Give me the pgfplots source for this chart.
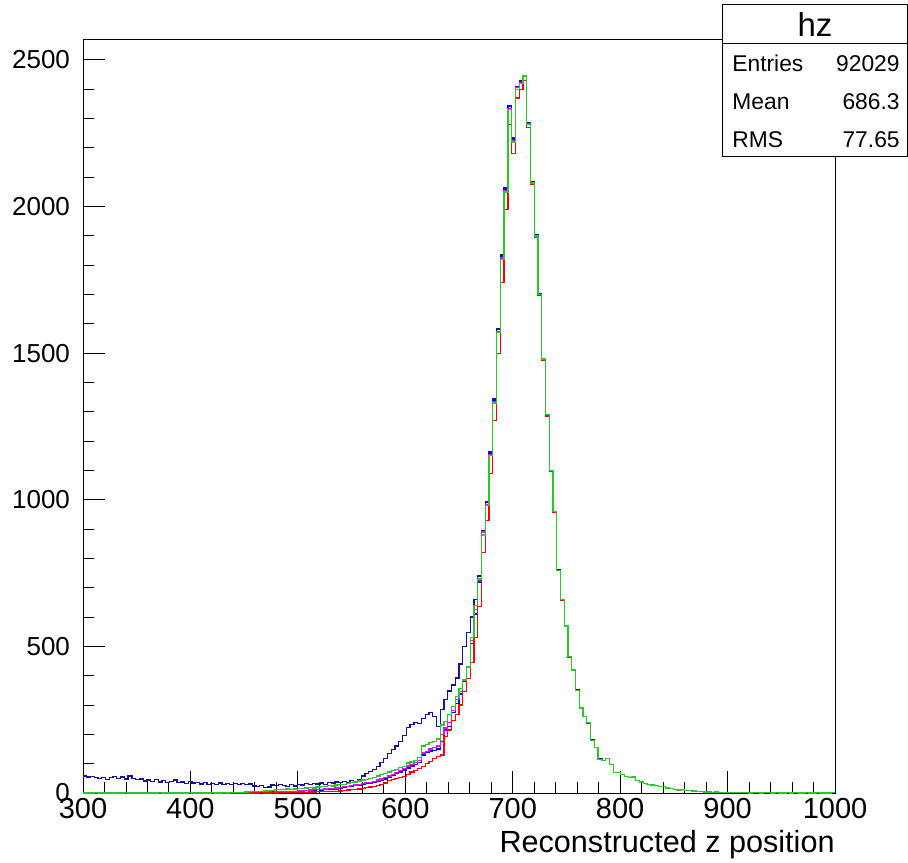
\documentclass[border=0pt]{standalone}
\usepackage{pgfplots}
\pgfplotsset{compat=1.18}
\usepackage{pgfplotstable}
\usepackage{fontspec}
\setmainfont{Liberation Sans}
\definecolor{hnavy}{RGB}{20,20,150}
\definecolor{hblue}{RGB}{0,0,255}
\definecolor{hmag}{RGB}{255,0,255}
\definecolor{hred}{RGB}{255,0,0}
\definecolor{hgreen}{RGB}{40,200,40}
\pgfplotstableread{
x N B M R G
300 58 0 0 0 0
303.5 55 0 1 0 0
307 57 0 0 0 0
310.5 52 0 0 0 1
314 49 0 0 0 0
317.5 53 1 0 0 0
321 47 0 0 0 0
324.5 52 0 0 1 0
328 57 0 0 0 0
331.5 50 0 0 0 0
335 55 0 1 0 0
338.5 48 0 0 0 1
342 58 0 0 0 0
345.5 50 0 0 0 0
349 45 1 0 0 0
352.5 48 0 0 0 0
356 41 0 0 1 0
359.5 44 0 0 0 0
363 40 0 1 0 0
366.5 46 0 0 0 0
370 38 0 0 0 1
373.5 42 0 0 0 0
377 36 1 0 0 0
380.5 40 0 0 0 0
384 44 0 0 0 0
387.5 36 0 1 0 0
391 38 0 0 1 0
394.5 33 0 0 0 0
398 39 0 0 0 1
401.5 34 0 0 0 0
405 36 1 0 0 0
408.5 31 0 0 0 0
412 35 0 1 0 0
415.5 30 0 0 0 0
419 33 0 0 0 1
422.5 29 0 0 1 0
426 34 0 0 0 0
429.5 30 1 0 0 1
433 33 0 1 0 0
436.5 28 0 0 0 1
440 32 1 0 0 1
443.5 29 0 1 0 1
447 33 1 0 0 2
450.5 30 1 1 0 3
454 31 0 1 0 4
457.5 24 1 2 0 5
461 22 1 1 0 6
464.5 26 2 2 1 5
468 18 1 2 0 7
471.5 20 2 3 0 8
475 27 3 2 1 9
478.5 25 2 4 0 11
482 29 3 3 1 12
485.5 26 4 5 1 12
489 23 3 4 1 14
492.5 28 5 6 2 13
496 24 4 5 1 14
499.5 30 6 7 2 16
503 27 7 8 3 15
506.5 32 8 9 2 17
510 29 9 10 3 18
513.5 33 10 11 3 17
517 31 11 12 4 20
520.5 34 10 13 4 21
524 30 12 14 5 22
527.5 36 13 16 5 25
531 34 14 15 6 24
534.5 38 13 17 5 27
538 35 16 19 7 29
541.5 40 18 21 8 30
545 37 21 22 10 32
548.5 42 22 25 11 35
552 36 25 27 13 38
555.5 45 27 30 14 41
559 58 30 33 16 44
562.5 66 32 35 18 46
566 74 34 37 20 50
569.5 80 36 40 22 52
573 90 40 44 25 58
576.5 104 44 48 28 62
580 118 48 52 34 66
583.5 135 55 58 42 72
587 148 60 64 46 76
590.5 160 66 70 50 80
594 175 72 76 54 86
597.5 196 78 84 56 90
601 224 85 92 62 102
604.5 234 92 98 72 106
608 240 98 104 76 112
611.5 237 104 110 84 120
615 255 130 136 90 160
618.5 268 137 142 100 166
622 275 143 150 108 172
625.5 262 146 155 118 176
629 228 150 160 124 184
632.5 285 175 200 130 232
636 320 215 222 192 245
639.5 348 228 240 215 268
643 368 275 282 248 296
646.5 392 305 318 268 330
650 440 338 345 300 356
653.5 500 380 388 345 385
657 548 428 430 390 430
660.5 600 510 520 445 530
664 660 610 625 530 640
667.5 740 720 725 635 730
671 895 890 890 820 880
674.5 995 990 985 930 980
678 1165 1160 1155 1090 1150
681.5 1345 1340 1335 1270 1330
685 1585 1580 1575 1500 1570
688.5 1835 1830 1825 1740 1820
692 2065 2060 2055 1990 2050
695.5 2345 2340 2335 2280 2330
699 2235 2230 2225 2180 2220
702.5 2410 2408 2405 2370 2400
706 2428 2425 2422 2400 2420
709.5 2448 2447 2446 2430 2445
713 2285 2284 2283 2270 2280
716.5 2085 2084 2083 2075 2080
720 1903 1902 1901 1895 1900
723.5 1702 1701 1700 1696 1700
727 1482 1481 1480 1476 1480
730.5 1291 1290 1290 1286 1290
734 1101 1100 1100 1097 1100
737.5 961 960 960 957 960
741 761 760 760 758 760
744.5 661 660 660 658 660
748 571 570 570 568 570
751.5 466 465 465 464 465
755 421 420 420 419 420
758.5 351 350 350 349 350
762 290 290 290 289 290
765.5 262 262 262 261 262
769 240 240 240 239 240
772.5 181 180 180 180 180
776 155 155 155 154 155
779.5 116 115 115 115 115
783 111 110 110 110 110
786.5 118 118 118 117 118
790 98 98 98 97 98
793.5 70 70 70 70 70
797 70 70 70 70 70
800.5 62 62 62 62 62
804 57 57 57 57 57
807.5 52 52 52 52 52
811 55 55 55 55 55
814.5 43 43 43 43 43
818 38 38 38 38 38
821.5 33 33 33 33 33
825 30 30 30 30 30
828.5 27 27 27 27 27
832 25 25 25 25 25
835.5 23 23 23 23 23
839 21 21 21 21 21
842.5 17 17 17 17 17
846 15 15 15 15 15
849.5 13 13 13 13 13
853 10 10 10 10 10
856.5 11 11 11 11 11
860 8 8 8 8 8
863.5 8 8 8 8 8
867 7 7 7 7 7
870.5 5 5 5 5 5
874 4 4 4 4 4
877.5 3 3 3 3 3
881 3 3 3 3 3
884.5 2 2 2 2 2
888 3 3 3 3 3
891.5 2 2 2 2 2
895 1 1 1 1 1
898.5 2 2 2 2 2
902 1 1 1 1 1
905.5 1 1 1 1 1
909 1 1 1 1 1
912.5 2 2 2 2 2
916 1 1 1 1 1
919.5 0 0 0 0 0
923 1 1 1 1 1
926.5 1 1 1 1 1
930 0 0 0 0 0
933.5 1 1 1 1 1
937 1 1 1 1 1
940.5 0 0 0 0 0
944 1 1 1 1 1
947.5 0 0 0 0 0
951 0 0 0 0 0
954.5 1 1 1 1 1
958 0 0 0 0 0
961.5 1 1 1 1 1
965 0 0 0 0 0
968.5 0 0 0 0 0
972 1 1 1 1 1
975.5 0 0 0 0 0
979 0 0 0 0 0
982.5 1 1 1 1 1
986 0 0 0 0 0
989.5 0 0 0 0 0
993 0 0 0 0 0
996.5 1 1 1 1 1
1000 1 1 1 1 1
}\hztable
\begin{document}
\begin{tikzpicture}[x=1pt,y=1pt]
\useasboundingbox (0,0) rectangle (454,431);
\begin{axis}[
  at={(41.5pt,34.5pt)}, anchor=south west,
  scale only axis, width=376pt, height=376.5pt,
  xmin=300, xmax=1000, ymin=0, ymax=2568,
  tick pos=left, tick align=inside,
  xtick={300,400,...,1000}, ytick={0,500,...,2500},
  minor x tick num=4, minor y tick num=4,
  major tick length=11pt, minor tick length=5.5pt,
  every tick/.style={black, line width=0.45pt},
  yticklabel style={font=\fontsize{13}{13}\selectfont, xshift=-3pt},
  xticklabel style={font=\fontsize{14.5}{14.5}\selectfont, yshift=1pt},
  /pgf/number format/assume math mode=true,
  /pgf/number format/1000 sep={},
  scaled ticks=false,
  axis line style={line width=0.5pt},
  xlabel={Reconstructed z position},
  xlabel style={font=\fontsize{15.3}{15.3}\selectfont, at={(rel axis cs:1,0)}, anchor=base east, yshift=-29.5pt, inner sep=0pt},
  every axis plot/.append style={const plot mark left, line width=0.65pt, mark=none},
]
\addplot[hnavy] table[x=x, y=N] {\hztable};
\addplot[hblue] table[x=x, y=B] {\hztable};
\addplot[hmag] table[x=x, y=M] {\hztable};
\addplot[hred] table[x=x, y=R] {\hztable};
\addplot[hgreen] table[x=x, y=G] {\hztable};
\end{axis}
\draw[fill=white, line width=0.5pt] (361,352.5) rectangle (453.5,428.5);
\draw[line width=0.5pt] (361,409) -- (453.5,409);
\node[font=\fontsize{16.5}{16.5}\selectfont, anchor=base, inner sep=0pt] at (407.5,412.5) {hz};
\node[font=\fontsize{11.4}{11.4}\selectfont, anchor=base west, inner sep=0pt] at (366,395) {Entries};
\node[font=\fontsize{11.4}{11.4}\selectfont, anchor=base east, inner sep=0pt] at (450,395) {92029};
\node[font=\fontsize{11.4}{11.4}\selectfont, anchor=base west, inner sep=0pt] at (366,376) {Mean};
\node[font=\fontsize{11.4}{11.4}\selectfont, anchor=base east, inner sep=0pt] at (450,376) {686.3};
\node[font=\fontsize{11.4}{11.4}\selectfont, anchor=base west, inner sep=0pt] at (366,357) {RMS};
\node[font=\fontsize{11.4}{11.4}\selectfont, anchor=base east, inner sep=0pt] at (450,357) {77.65};
\end{tikzpicture}
\end{document}
